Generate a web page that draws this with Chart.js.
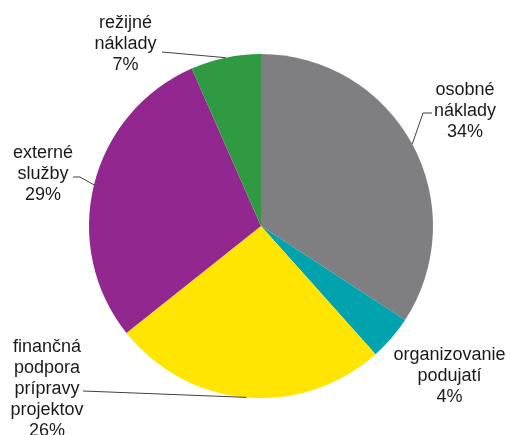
<!DOCTYPE html>
<html>
<head>
<meta charset="utf-8">
<script src="https://cdn.jsdelivr.net/npm/chart.js@4/dist/chart.umd.min.js"></script>
<style>
html,body{margin:0;padding:0;background:#fff;}
canvas{display:block;}
</style>
</head>
<body>
<canvas id="c" width="510" height="435"></canvas>
<script>
// Data
const categories = [
  ["osobné", "náklady"],
  ["organizovanie", "podujatí"],
  ["finančná", "podpora", "prípravy", "projektov"],
  ["externé", "služby"],
  ["režijné", "náklady"]
];
const values = [34.2, 4.2, 25.9, 29.1, 6.6];
const colors = ["#7f7f82", "#00a3ad", "#ffe500", "#92278f", "#2f9a41"];

// Label layout (offsets from pie centre, px) and leader-line elbows
const labelLayout = [
  {dx: 204, dy: -131, leader: [[171, -113], [162, -113]]},
  {dx: 188.5, dy: 134, leader: null},
  {dx: -214, dy: 126, leader: [[-178, 165]]},
  {dx: -218, dy: -68, leader: [[-188, -49], [-181, -49]]},
  {dx: -135.5, dy: -198, leader: [[-99, -174]]}
];

const labelPlugin = {
  id: 'pieLabels',
  afterDatasetsDraw(chart) {
    const ctx = chart.ctx;
    const meta = chart.getDatasetMeta(0);
    const total = values.reduce((a, b) => a + b, 0);
    ctx.save();
    meta.data.forEach((arc, i) => {
      const p = arc.getProps(['x', 'y', 'startAngle', 'endAngle', 'outerRadius'], true);
      const cx = p.x, cy = p.y;
      const mid = (p.startAngle + p.endAngle) / 2;
      const L = labelLayout[i];
      if (L.leader) {
        ctx.strokeStyle = '#404040';
        ctx.lineWidth = 1;
        ctx.beginPath();
        ctx.moveTo(cx + Math.cos(mid) * p.outerRadius, cy + Math.sin(mid) * p.outerRadius);
        for (let k = L.leader.length - 1; k >= 0; k--) {
          ctx.lineTo(cx + L.leader[k][0], cy + L.leader[k][1]);
        }
        ctx.stroke();
      }
      const pct = Math.round(values[i] / total * 100 + 1e-9);
      const lines = categories[i].concat([pct + '%']);
      ctx.fillStyle = '#1a1a1a';
      ctx.font = '18px "Liberation Sans", Arial, sans-serif';
      ctx.textAlign = 'center';
      ctx.textBaseline = 'alphabetic';
      lines.forEach((t, j) => {
        ctx.fillText(t, cx + L.dx, cy + L.dy + j * 21);
      });
    });
    ctx.restore();
  }
};

new Chart(document.getElementById('c'), {
  type: 'pie',
  data: {
    labels: categories.map(c => c.join(' ')),
    datasets: [{
      data: values,
      backgroundColor: colors,
      borderWidth: 0
    }]
  },
  options: {
    responsive: false,
    animation: false,
    layout: {padding: {top: 54, bottom: 37, left: 89, right: 77}},
    plugins: {legend: {display: false}, tooltip: {enabled: false}}
  },
  plugins: [labelPlugin]
});
</script>
</body>
</html>
